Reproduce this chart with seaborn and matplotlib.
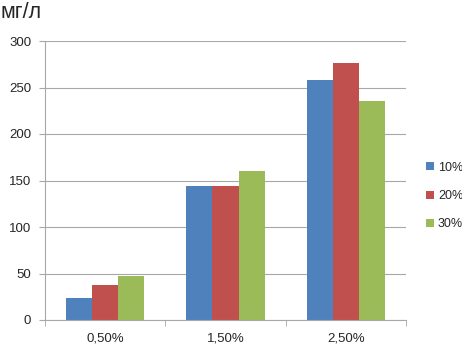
import matplotlib
matplotlib.use("Agg")
import matplotlib.pyplot as plt
import seaborn as sns
import pandas as pd

categories = ["0,50%", "1,50%", "2,50%"]
series_names = ["10%", "20%", "30%"]
s10 = [24, 144, 258]
s20 = [38, 144, 276]
s30 = [47, 160, 236]
colors = ["#4F81BD", "#C0504D", "#9BBB59"]

rows = []
for name, vals in zip(series_names, [s10, s20, s30]):
    for c, v in zip(categories, vals):
        rows.append({"cat": c, "series": name, "value": v})
df = pd.DataFrame(rows)

sns.set_style("white")
plt.rcParams['font.family'] = ['Liberation Sans', 'DejaVu Sans']

fig = plt.figure(figsize=(4.62, 3.53), dpi=100)
ax = fig.add_axes([45/462, 1-320/353, (406-45)/462, (320-41)/353])

sns.barplot(data=df, x="cat", y="value", hue="series", order=categories,
            hue_order=series_names, palette=colors, width=0.65, gap=0,
            saturation=1, ax=ax, edgecolor="none", linewidth=0)

ax.set_ylim(0, 300)
ax.set_xlim(-0.5, 2.5)
ax.set_yticks(range(0, 301, 50))
ax.yaxis.grid(True, color="#A8A8A8", linewidth=0.8)
ax.set_axisbelow(True)
for s in ["top", "right"]:
    ax.spines[s].set_visible(False)
ax.spines["left"].set_color("#A8A8A8")
ax.spines["bottom"].set_color("#A8A8A8")
ax.set_xlabel("")
ax.set_ylabel("")
ax.tick_params(axis="y", length=4, color="#A8A8A8", labelsize=9.5, pad=6, left=True)
ax.tick_params(axis="x", which="major", length=0, labelsize=9.5, pad=9)
ax.set_xticks([-0.5, 0.5, 1.5, 2.5], minor=True)
ax.tick_params(axis="x", which="minor", length=4, color="#A8A8A8", bottom=True)

handles, labels = ax.get_legend_handles_labels()
ax.legend(handles, labels, loc="center left", bbox_to_anchor=(426/462, 1-196/353),
          bbox_transform=fig.transFigure, frameon=False, fontsize=9,
          borderpad=0, borderaxespad=0,
          handlelength=0.6, handleheight=0.6, handletextpad=0.35, labelspacing=1.3)

fig.text(1/462, 1-13/353, "мг/л", fontsize=15.5, ha="left", va="center")

fig.savefig("out.png", dpi=100)
